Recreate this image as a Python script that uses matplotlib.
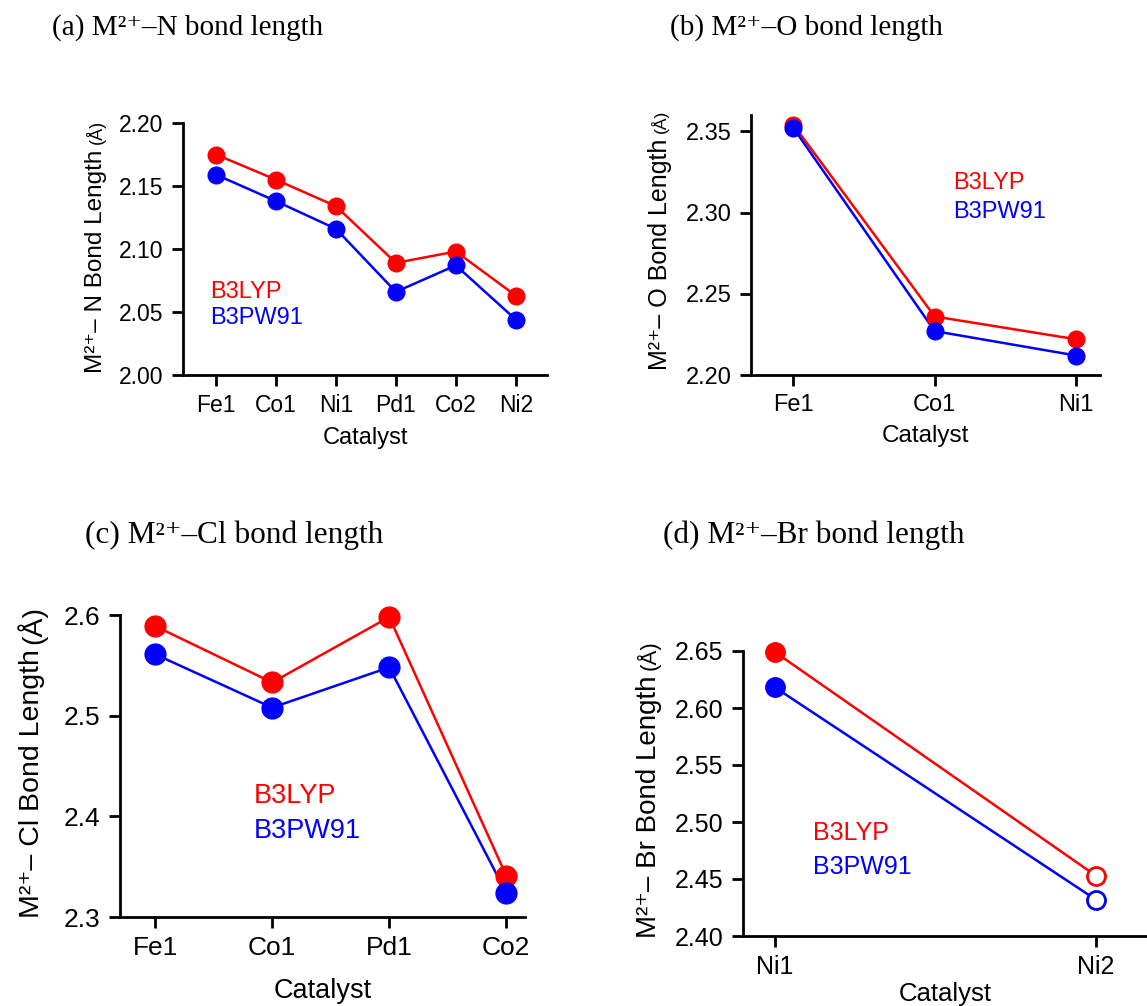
import matplotlib.pyplot as plt
from matplotlib.text import Annotation

plt.rcParams['font.family'] = ['Liberation Sans', 'DejaVu Sans']

# panel data (bond lengths in angstrom)
a_cats = ['Fe1', 'Co1', 'Ni1', 'Pd1', 'Co2', 'Ni2']
a_b3lyp = [2.175, 2.155, 2.134, 2.089, 2.098, 2.063]
a_b3pw91 = [2.159, 2.138, 2.116, 2.066, 2.087, 2.044]

b_cats = ['Fe1', 'Co1', 'Ni1']
b_b3lyp = [2.354, 2.236, 2.222]
b_b3pw91 = [2.352, 2.227, 2.212]

c_cats = ['Fe1', 'Co1', 'Pd1', 'Co2']
c_b3lyp = [2.589, 2.533, 2.598, 2.341]
c_b3pw91 = [2.561, 2.508, 2.548, 2.324]

d_cats = ['Ni1', 'Ni2']
d_b3lyp = [2.649, 2.453]
d_b3pw91 = [2.618, 2.432]

RED = '#ff0000'
BLUE = '#0000ff'
W, H = 1147, 1006

fig = plt.figure(figsize=(W / 100, H / 100), dpi=100)


def make_ax(l, r, t, b):
    return fig.add_axes([l / W, 1 - b / H, (r - l) / W, (b - t) / H])


def style(ax, fs):
    for s in ['top', 'right']:
        ax.spines[s].set_visible(False)
    for s in ['left', 'bottom']:
        ax.spines[s].set_linewidth(2)
    ax.tick_params(direction='out', length=8, width=2, labelsize=fs, pad=6)


def ylabel(main, unit, x_px, yb_px, fs_main, fs_unit):
    # main label with the unit stacked above it (unit can be smaller)
    t = fig.text(x_px / W, 1 - yb_px / H, main, rotation=90, fontsize=fs_main,
                 ha='center', va='bottom')
    ann = Annotation(unit, xy=(0.5, 1.0), xycoords=t, xytext=(0, 4),
                     textcoords='offset points', rotation=90, fontsize=fs_unit,
                     ha='center', va='bottom')
    fig.add_artist(ann)


def panel(ax, cats, y1, y2, ylim, xlim, yticks, fmt, fs, lfs, ms,
          leg_xy, leg_dy, xpad, hollow_last=False):
    x = list(range(len(cats)))
    ax.plot(x, y1, color=RED, lw=1.8, zorder=2)
    ax.plot(x, y2, color=BLUE, lw=1.8, zorder=2)
    n = len(cats) - 1 if hollow_last else len(cats)
    ax.plot(x[:n], y1[:n], 'o', color=RED, ms=ms, zorder=3, ls='none', clip_on=False)
    ax.plot(x[:n], y2[:n], 'o', color=BLUE, ms=ms, zorder=3, ls='none', clip_on=False)
    if hollow_last:
        ax.plot(x[n:], y1[n:], 'o', mfc='white', mec=RED, mew=2, ms=ms - 1,
                zorder=3, ls='none', clip_on=False)
        ax.plot(x[n:], y2[n:], 'o', mfc='white', mec=BLUE, mew=2, ms=ms - 1,
                zorder=3, ls='none', clip_on=False)
    ax.set_xlim(*xlim)
    ax.set_ylim(*ylim)
    ax.set_xticks(x)
    ax.set_xticklabels(cats)
    ax.set_yticks(yticks)
    ax.set_yticklabels([fmt.format(v) for v in yticks])
    style(ax, fs)
    ax.set_xlabel('Catalyst', fontsize=fs + 0.5, labelpad=xpad)
    ax.text(leg_xy[0], leg_xy[1], 'B3LYP', color=RED, fontsize=lfs,
            transform=ax.transAxes, va='center')
    ax.text(leg_xy[0], leg_xy[1] - leg_dy, 'B3PW91', color=BLUE, fontsize=lfs,
            transform=ax.transAxes, va='center')


ax_a = make_ax(183, 547, 123, 375)
panel(ax_a, a_cats, a_b3lyp, a_b3pw91, (2.00, 2.20), (-0.55, 5.52),
      [2.00, 2.05, 2.10, 2.15, 2.20], '{:.2f}', 16.5, 17, 12,
      (0.074, 0.33), 0.104, 7)

ax_b = make_ax(751, 1100, 115, 375)
panel(ax_b, b_cats, b_b3lyp, b_b3pw91, (2.20, 2.36), (-0.30, 2.17),
      [2.20, 2.25, 2.30, 2.35], '{:.2f}', 17, 17, 12,
      (0.58, 0.74), 0.113, 6)

ax_c = make_ax(120, 525, 615, 917)
panel(ax_c, c_cats, c_b3lyp, c_b3pw91, (2.30, 2.60), (-0.30, 3.16),
      [2.3, 2.4, 2.5, 2.6], '{:.1f}', 19, 19.5, 15,
      (0.33, 0.40), 0.116, 13)

ax_d = make_ax(743, 1147, 651, 936)
panel(ax_d, d_cats, d_b3lyp, d_b3pw91, (2.40, 2.65), (-0.10, 1.16),
      [2.40, 2.45, 2.50, 2.55, 2.60, 2.65], '{:.2f}', 18, 18, 14,
      (0.173, 0.36), 0.118, 2, hollow_last=True)

# y axis labels
ylabel('M²⁺– N Bond Length', '(Å)', 96, 373, 17.5, 13)
ylabel('M²⁺– O Bond Length', '(Å)', 660, 370, 18, 12.5)
ylabel('M²⁺– Cl Bond Length', '(Å)', 32, 918, 20.5, 20.5)
ylabel('M²⁺– Br Bond Length', '(Å)', 649, 938, 20, 16)

# panel titles
serif = ['Liberation Serif', 'DejaVu Serif']
titles = ['(a) M²⁺–N bond length', '(b) M²⁺–O bond length',
          '(c) M²⁺–Cl bond length', '(d) M²⁺–Br bond length']
title_pos = [(52, 28, 21), (670, 28, 21), (85, 535, 22.5), (663, 535, 22.5)]
for t, (px, py, fs) in zip(titles, title_pos):
    fig.text(px / W, 1 - py / H, t, fontsize=fs, family=serif, va='center', ha='left')

fig.savefig('out.png', dpi=100)
